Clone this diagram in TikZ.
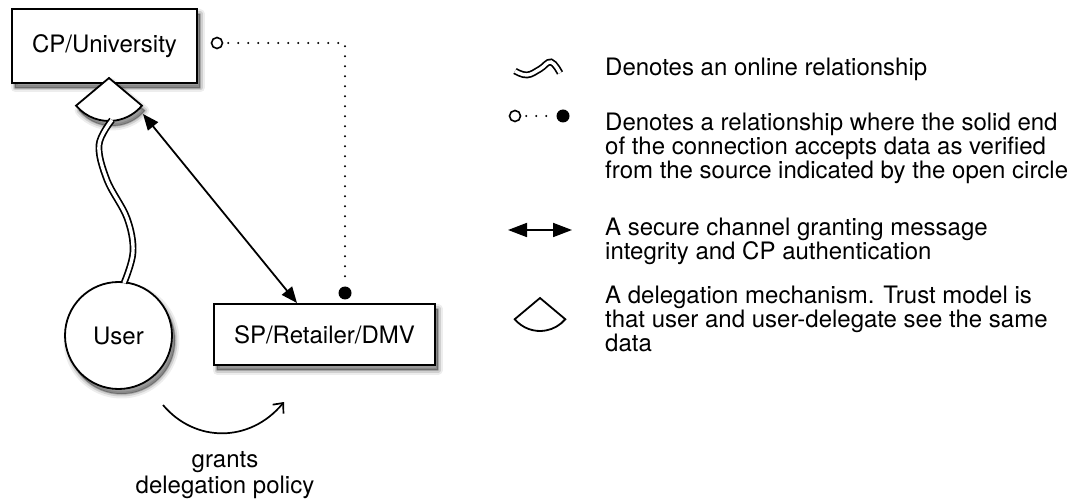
\documentclass[tikz,border=0pt]{standalone}
\usepackage{fontspec}
\setmainfont{TeX Gyre Heros}
\usetikzlibrary{arrows.meta}
\tikzset{
  shad/.style={
    preaction={draw=black,fill=black,line width=9pt,line join=round,draw opacity=0.07,fill opacity=0.07,transform canvas={xshift=3pt,yshift=-5pt}},
    preaction={draw=black,fill=black,line width=5pt,line join=round,draw opacity=0.12,fill opacity=0.12,transform canvas={xshift=3pt,yshift=-5pt}},
    preaction={draw=black,fill=black,line width=1.5pt,line join=round,draw opacity=0.2,fill opacity=0.2,transform canvas={xshift=3pt,yshift=-5pt}}},
  boxnode/.style={draw,line width=1.8pt,fill=white,shad,inner sep=0pt},
  usernode/.style={circle,draw,line width=1.8pt,fill=white,shad,inner sep=0pt,minimum size=107pt},
  legtext/.style={anchor=north west,inner sep=0pt,align=left},
  online/.style={line width=1.7pt,double=white,double distance=3.4pt},
  secure/.style={line width=1.8pt,{Triangle[length=16pt,width=13pt,fill=black]}-{Triangle[length=16pt,width=13pt,fill=black]}},
  legsecure/.style={line width=1.8pt,{Triangle[length=19pt,width=14pt,fill=black]}-{Triangle[length=19pt,width=14pt,fill=black]}},
  dotline/.style={line width=2.2pt,line cap=round,dash pattern=on 0pt off 10pt},
  opencirc/.style={circle,draw,fill=white,line width=1.6pt,minimum size=11pt,inner sep=0pt},
  solidcirc/.style={circle,fill=black,minimum size=13pt,inner sep=0pt},
  wedge/.style={draw,line width=1.8pt,fill=white,line join=miter},
  grantarrow/.style={line width=1.7pt,-{Straight Barb[length=8pt,width=14pt,line width=1.7pt]}}
}
\begin{document}
\begin{tikzpicture}[x=1pt,y=-1pt,every node/.append style={font=\fontsize{24}{22}\selectfont}]
\useasboundingbox (0,0) rectangle (1073,502);

% main nodes
\node[boxnode,minimum width=185pt,minimum height=74pt] (cp) at (104.5,46) {CP/University};
\node[boxnode,minimum width=221pt,minimum height=61pt] (sp) at (324.5,334.5) {SP/Retailer/DMV};
\node[usernode] (user) at (118.5,335.5) {User};

% delegation wedge
\coordinate (wapex) at (109,78);
\draw[wedge,shad] (wapex) -- ++(-140:43pt) arc[start angle=-140,end angle=-40,radius=43pt] -- cycle;
\coordinate (wbottom) at (112,120);
\coordinate (wright) at (143,114);

% online relationship (double line)
\coordinate (utop) at (124,283);
\draw[online] plot[smooth,tension=0.6] coordinates {(wbottom) (99,145) (107,180) (127,218) (133,252) (utop)};

% secure channel
\coordinate (sptop) at (297,303);
\draw[secure] (wright) -- (sptop);

% verified data relationship
\node[opencirc] (oc) at (217,43) {};
\node[solidcirc] (fc) at (345,293) {};
\draw[dotline] (oc.east) ++(5,0) -| (fc.north);

% grants delegation policy
\coordinate (g1) at (163,405);
\coordinate (g2) at (284,402);
\draw[grantarrow] (g1) .. controls (195,443) and (250,443) .. (g2);
\node[anchor=north,inner sep=0pt,align=center,font=\fontsize{24}{26}\selectfont] (grants) at (225,451) {grants\\delegation policy};

% legend icons
\draw[online] plot[smooth,tension=0.7] coordinates {(515,71) (527,75) (540,69) (551,62) (560,73)};
\node[opencirc] (loc) at (515,116) {};
\node[solidcirc] (lfc) at (563,116) {};
\draw[dotline] (loc.east) ++(5,0) -- (lfc.west);
\coordinate (la1) at (508,230);
\coordinate (la2) at (572,230);
\draw[legsecure] (la1) -- (la2);
\coordinate (lwapex) at (540,298);
\draw[wedge] (lwapex) -- ++(-140:33pt) arc[start angle=-140,end angle=-40,radius=33pt] -- cycle;

% legend texts
\node[legtext] (t1) at (605,58) {Denotes an online relationship};
\node[legtext] (t2) at (605,113) {Denotes a relationship where the solid end\\of the connection accepts data as verified\\from the source indicated by the open circle};
\node[legtext] (t3) at (605,218) {A secure channel granting message\\integrity and CP authentication};
\node[legtext] (t4) at (605,286) {A delegation mechanism. Trust model is\\that user and user-delegate see the same\\data};
\end{tikzpicture}
\end{document}
